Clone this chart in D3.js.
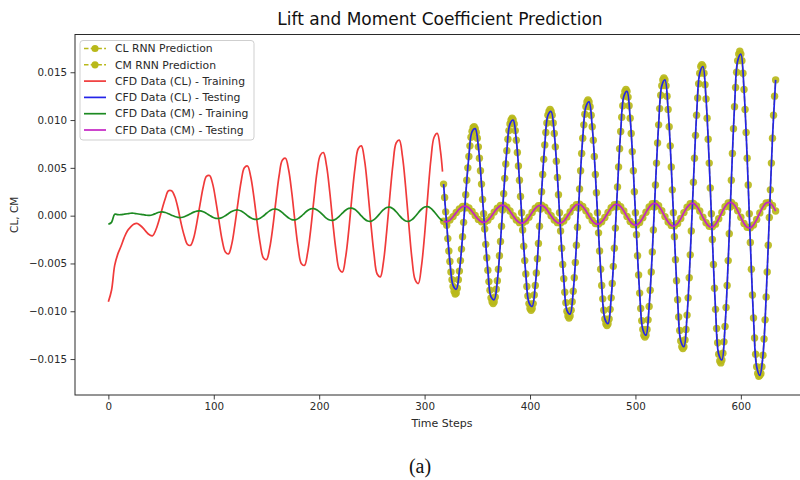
<!DOCTYPE html>
<html>
<head>
<meta charset="utf-8">
<script src="https://cdn.jsdelivr.net/npm/d3@7"></script>
<style>
  html, body { margin: 0; padding: 0; background: #fff; }
  svg { display: block; font-family: "DejaVu Sans", sans-serif; }
</style>
</head>
<body>
<svg id="chart" width="800" height="480"></svg>
<script>
// Coefficient values are stored in units of 1e-4.
const UNIT = 1e-4;

// Time-step positions of each series
const trainSteps = [...d3.range(0, 316, 3), 317];
const testSteps = d3.range(318, 634, 3);
const predSteps = d3.range(318, 634);

const clTraining = [
  -90, -78, -52, -40, -32, -23, -16, -12, -9, -8, -10, -13, -17, -20,
  -21, -15, -5, 7, 18, 26,
  26, 20, 8, -8, -21, -30,
  -31, -23, -7, 12, 30, 41,
  42, 33, 15, -6, -26, -38,
  -40, -30, -10, 14, 36, 50,
  52, 41, 20, -6, -29, -44,
  -46, -34, -12, 16, 42, 58,
  60, 48, 24, -6, -33, -50,
  -52, -39, -14, 17, 46, 63,
  66, 52, 25, -8, -37, -56,
  -59, -44, -16, 19, 50, 70,
  73, 58, 28, -8, -40, -61,
  -64, -48, -17, 20, 54, 76,
  79, 62, 30, -9, -45, -67,
  -71, -53, -20, 21, 59, 82,
  86, 68, 46
];

const cmTraining = [
  -9, -7, 1.5, 1, 1, 1.5, 2, 2.5, 2.5, 2, 1.5, 1, 0.4, 0.3,
  1, 2.3, 3.6,
  4, 3.3, 2, 0.5, -0.9, -1.8,
  -1.9, -1.2, 0.3, 2.1, 3.7, 4.8,
  5, 4.1, 2.4, 0.3, -1.6, -2.8,
  -2.9, -1.9, 0, 2.3, 4.4, 5.7,
  5.9, 4.8, 2.7, 0.1, -2.2, -3.7,
  -3.9, -2.7, -0.4, 2.5, 5, 6.7,
  6.9, 5.7, 3.2, 0.2, -2.4, -4.2,
  -4.4, -3.1, -0.6, 2.5, 5.4, 7.1,
  7.4, 6, 3.4, 0.2, -2.8, -4.6,
  -4.9, -3.5, -0.7, 2.6, 5.7, 7.6,
  7.9, 6.4, 3.4, -0.2, -3.5, -5.6,
  -5.9, -4.2, -1.1, 2.8, 6.3, 8.6,
  8.9, 7.2, 4.1, 0.2, -3.3, -5.6,
  -5.9, -4.2, -0.9, 3.1, 6.7, 9,
  9.4, 7.6, 4.2, 0.1, -3.6, -5.4
];

const clTesting = [
  33, -10, -48, -73, -77, -58, -22, 22, 62, 88,
  91, 72, 33, -14, -57, -85, -88, -68, -27, 23,
  68, 96, 100, 79, 37, -15, -61, -91, -95, -73,
  -29, 25, 74, 105, 109, 86, 40, -16, -66, -99,
  -103, -79, -31, 28, 81, 114, 119, 93, 43, -18,
  -73, -108, -113, -86, -34, 30, 88, 125, 130, 102,
  47, -20, -81, -119, -125, -95, -38, 32, 95, 136,
  142, 111, 51, -22, -88, -131, -137, -104, -41, 35,
  105, 149, 156, 122, 55, -25, -98, -145, -151, -116,
  -47, 37, 114, 162, 169, 132, 60, -28, -107, -158,
  -167, -146, -85, -2, 81, 142
];

const cmTesting = [
  -6.0,
  -6.4, -4.6, -1.1, 3.2, 7.0, 9.5,
  9.9, 8.0, 4.4, 0.0, -4.0, -6.5,
  -6.9, -4.9, -1.1, 3.6, 7.8, 10.5,
  10.8, 8.8, 4.7, -0.2, -4.6, -7.4,
  -7.8, -5.8, -1.7, 3.2, 7.6, 10.4,
  10.8, 8.8, 4.7, -0.2, -4.6, -7.4,
  -7.8, -5.7, -1.4, 3.7, 8.4, 11.4,
  11.8, 9.5, 5.1, -0.3, -5.2, -8.4,
  -8.8, -6.5, -2.1, 3.3, 8.2, 11.4,
  11.8, 9.4, 4.8, -0.9, -6.1, -9.3,
  -9.8, -7.3, -2.4, 3.5, 8.9, 12.3,
  12.8, 10.2, 5.1, -1.1, -6.7, -10.3,
  -10.8, -8.2, -3.1, 3.1, 8.7, 12.3,
  12.8, 10.1, 4.8, -1.7, -7.5, -11.3,
  -11.8, -9.0, -3.4, 3.3, 9.3, 13.2,
  13.8, 10.8, 5.1, -1.8, -8.2, -12.2,
  -12.8, -9.8, -4.1, 2.8, 9.2, 13.2,
  13.8, 10.7, 4.8
];

// RNN predictions: lift at every time step, moment on the testing grid
const clPredicted = [
  33, 19, 4, -10, -24, -37, -48, -59, -67, -74, -79, -82,
  -81, -76, -67, -58, -47, -35, -22, -7, 8, 22, 37, 50, 62, 73, 82, 88, 92, 93,
  91, 87, 81, 72, 60, 47, 33, 17, 2, -14, -30, -44, -57, -69, -78, -86, -90, -92,
  -90, -85, -77, -68, -56, -42, -27, -11, 6, 23, 39, 54, 68, 80, 89, 96, 100, 102,
  100, 96, 89, 79, 66, 52, 37, 20, 3, -15, -32, -47, -61, -74, -84, -92, -97, -99,
  -97, -92, -83, -73, -60, -45, -29, -11, 7, 25, 43, 59, 74, 87, 97, 105, 109, 111,
  109, 105, 97, 86, 72, 57, 40, 22, 3, -16, -34, -51, -66, -80, -91, -100, -105, -107,
  -105, -99, -90, -79, -65, -49, -31, -12, 8, 28, 47, 65, 81, 95, 106, 114, 119, 121,
  119, 114, 105, 93, 79, 62, 43, 24, 3, -18, -37, -56, -73, -87, -99, -108, -113, -115,
  -113, -108, -98, -86, -71, -53, -34, -13, 9, 30, 51, 70, 88, 103, 115, 125, 130, 132,
  130, 124, 115, 102, 86, 67, 47, 25, 3, -20, -42, -62, -81, -97, -110, -119, -125, -127,
  -125, -119, -109, -95, -78, -59, -38, -15, 9, 32, 55, 76, 95, 112, 126, 136, 142, 144,
  142, 136, 125, 111, 93, 73, 51, 27, 3, -22, -46, -68, -88, -106, -120, -131, -137, -139,
  -137, -130, -119, -104, -86, -65, -41, -16, 10, 35, 60, 84, 105, 123, 138, 149, 156, 158,
  156, 149, 137, 122, 102, 80, 55, 29, 2, -25, -51, -76, -98, -118, -133, -145, -152, -154,
  -151, -144, -132, -116, -96, -73, -47, -19, 9, 37, 65, 91, 114, 134, 150, 162, 169, 172,
  169, 162, 149, 132, 111, 87, 60, 32, 2, -28, -56, -83, -107, -128, -145, -158, -165, -168,
  -167, -165, -158, -146, -129, -109, -85, -59, -31, -2, 27, 55, 81, 105, 125, 142
];

const cmPredicted = [
  -5.8,
  -6.2, -4.5, -1.0, 3.3, 7.1, 9.6,
  10.0, 8.1, 4.5, 0.1, -3.9, -6.4,
  -6.8, -4.8, -1.0, 3.7, 7.9, 10.6,
  10.9, 8.9, 4.8, -0.1, -4.5, -7.3,
  -7.7, -5.7, -1.6, 3.3, 7.7, 10.5,
  10.9, 8.9, 4.8, -0.1, -4.5, -7.3,
  -7.7, -5.6, -1.3, 3.8, 8.5, 11.5,
  11.9, 9.6, 5.2, -0.2, -5.1, -8.3,
  -8.7, -6.4, -2.0, 3.4, 8.3, 11.5,
  11.9, 9.5, 4.9, -0.8, -6.0, -9.2,
  -9.7, -7.2, -2.3, 3.6, 9.0, 12.4,
  12.9, 10.3, 5.2, -1.0, -6.6, -10.2,
  -10.7, -8.1, -3.0, 3.2, 8.8, 12.4,
  12.9, 10.2, 4.9, -1.6, -7.4, -11.2,
  -11.7, -8.9, -3.3, 3.4, 9.4, 13.3,
  13.9, 10.9, 5.2, -1.7, -8.1, -12.1,
  -12.7, -9.7, -4.0, 2.9, 9.3, 13.3,
  13.9, 10.8, 4.9
];

const xTicks = [0, 100, 200, 300, 400, 500, 600];
const yTicks = [-0.015, -0.010, -0.005, 0.000, 0.005, 0.010, 0.015];

const titleText = "Lift and Moment Coefficient Prediction";
const xLabel = "Time Steps";
const yLabel = "CL, CM";
const captionText = "(a)";

const legendLabels = [
  "CL RNN Prediction",
  "CM RNN Prediction",
  "CFD Data (CL) - Training",
  "CFD Data (CL) - Testing",
  "CFD Data (CM) - Training",
  "CFD Data (CM) - Testing"
];

// ---- layout ----
const plot = { left: 75, right: 809, top: 34.5, bottom: 395 };
const colors = {
  pred: "#b9b91a",
  red: "#f03a3a",
  blue: "#2424e8",
  green: "#1d8a22",
  magenta: "#c424c4",
  ink: "#2a2a2a"
};

const svg = d3.select("#chart");

const x = d3.scaleLinear().domain([-31.65, 664.65]).range([plot.left, plot.right]);
const y = d3.scaleLinear().domain([-0.01876, 0.01895]).range([plot.bottom, plot.top]);

const toPoints = (steps, values) =>
  steps.map((s, i) => ({ t: s, v: values[i] * UNIT })).filter(d => Number.isFinite(d.v));

const smooth = d3.line().x(d => x(d.t)).y(d => y(d.v)).curve(d3.curveCatmullRom.alpha(0.5));
const straight = d3.line().x(d => x(d.t)).y(d => y(d.v));

const g = svg.append("g");

// predictions (drawn first so the CFD curves sit on top)
function drawPrediction(points) {
  g.append("path").datum(points)
    .attr("d", straight)
    .attr("fill", "none")
    .attr("stroke", colors.pred)
    .attr("stroke-width", 1.5)
    .attr("stroke-dasharray", "5.5,2.4");
  g.append("g").selectAll("circle").data(points).join("circle")
    .attr("cx", d => x(d.t))
    .attr("cy", d => y(d.v))
    .attr("r", 3.7)
    .attr("fill", colors.pred)
    .attr("fill-opacity", 0.92);
}
drawPrediction(toPoints(predSteps, clPredicted));
drawPrediction(toPoints(testSteps, cmPredicted));

function drawCurve(points, color) {
  g.append("path").datum(points)
    .attr("d", smooth)
    .attr("fill", "none")
    .attr("stroke", color)
    .attr("stroke-width", 1.7)
    .attr("stroke-linejoin", "round");
}
drawCurve(toPoints(trainSteps, clTraining), colors.red);
drawCurve(toPoints(testSteps, clTesting), colors.blue);
drawCurve(toPoints(trainSteps, cmTraining), colors.green);
drawCurve(toPoints(testSteps, cmTesting), colors.magenta);

// ---- axes ----
const xAxis = d3.axisBottom(x).tickValues(xTicks).tickFormat(d3.format("d"))
  .tickSize(4.5).tickPadding(3.5);
const yAxis = d3.axisLeft(y).tickValues(yTicks).tickFormat(d3.format(".3f"))
  .tickSize(4.5).tickPadding(3.5);

const gx = svg.append("g").attr("transform", `translate(0,${plot.bottom})`).call(xAxis);
const gy = svg.append("g").attr("transform", `translate(${plot.left},0)`).call(yAxis);
[gx, gy].forEach(a => {
  a.select(".domain").remove();
  a.selectAll(".tick line").attr("stroke", colors.ink).attr("stroke-width", 0.9);
  a.selectAll(".tick text").attr("fill", colors.ink)
    .style("font-family", "'DejaVu Sans', sans-serif").style("font-size", "10.3px");
});

// frame
svg.append("rect")
  .attr("x", plot.left).attr("y", plot.top)
  .attr("width", plot.right - plot.left).attr("height", plot.bottom - plot.top)
  .attr("fill", "none").attr("stroke", colors.ink).attr("stroke-width", 1);

// titles and labels
svg.append("text")
  .attr("x", 440).attr("y", 25)
  .attr("text-anchor", "middle")
  .attr("fill", "#111")
  .style("font-size", "17px")
  .text(titleText);

svg.append("text")
  .attr("x", 442).attr("y", 427)
  .attr("text-anchor", "middle")
  .attr("fill", colors.ink)
  .style("font-size", "11px")
  .text(xLabel);

svg.append("text")
  .attr("transform", `translate(18,${(plot.top + plot.bottom) / 2}) rotate(-90)`)
  .attr("text-anchor", "middle")
  .attr("fill", colors.ink)
  .style("font-size", "10.5px")
  .text(yLabel);

svg.append("text")
  .attr("x", 420).attr("y", 473)
  .attr("text-anchor", "middle")
  .attr("fill", "#111")
  .style("font-family", "'Liberation Serif', 'DejaVu Serif', serif")
  .style("font-size", "20px")
  .text(captionText);

// ---- legend ----
const legendKinds = ["pred", "pred", colors.red, colors.blue, colors.green, colors.magenta];
const legend = svg.append("g");
legend.append("rect")
  .attr("x", 80).attr("y", 40.5)
  .attr("width", 174).attr("height", 99.5)
  .attr("rx", 3)
  .attr("fill", "#fff").attr("fill-opacity", 0.85)
  .attr("stroke", "#cfcfcf").attr("stroke-width", 1);

legendLabels.forEach((label, i) => {
  const cy = 48.5 + i * 16.3;
  const kind = legendKinds[i];
  if (kind === "pred") {
    legend.append("line")
      .attr("x1", 84).attr("x2", 106).attr("y1", cy).attr("y2", cy)
      .attr("stroke", colors.pred).attr("stroke-width", 1.5)
      .attr("stroke-dasharray", "4.5,2.2");
    legend.append("circle").attr("cx", 95).attr("cy", cy).attr("r", 3.6)
      .attr("fill", colors.pred);
  } else {
    legend.append("line")
      .attr("x1", 84).attr("x2", 106).attr("y1", cy).attr("y2", cy)
      .attr("stroke", kind).attr("stroke-width", 1.7);
  }
  legend.append("text")
    .attr("x", 115).attr("y", cy)
    .attr("dy", "0.35em")
    .attr("fill", colors.ink)
    .style("font-size", "10.8px")
    .text(label);
});
</script>
</body>
</html>
